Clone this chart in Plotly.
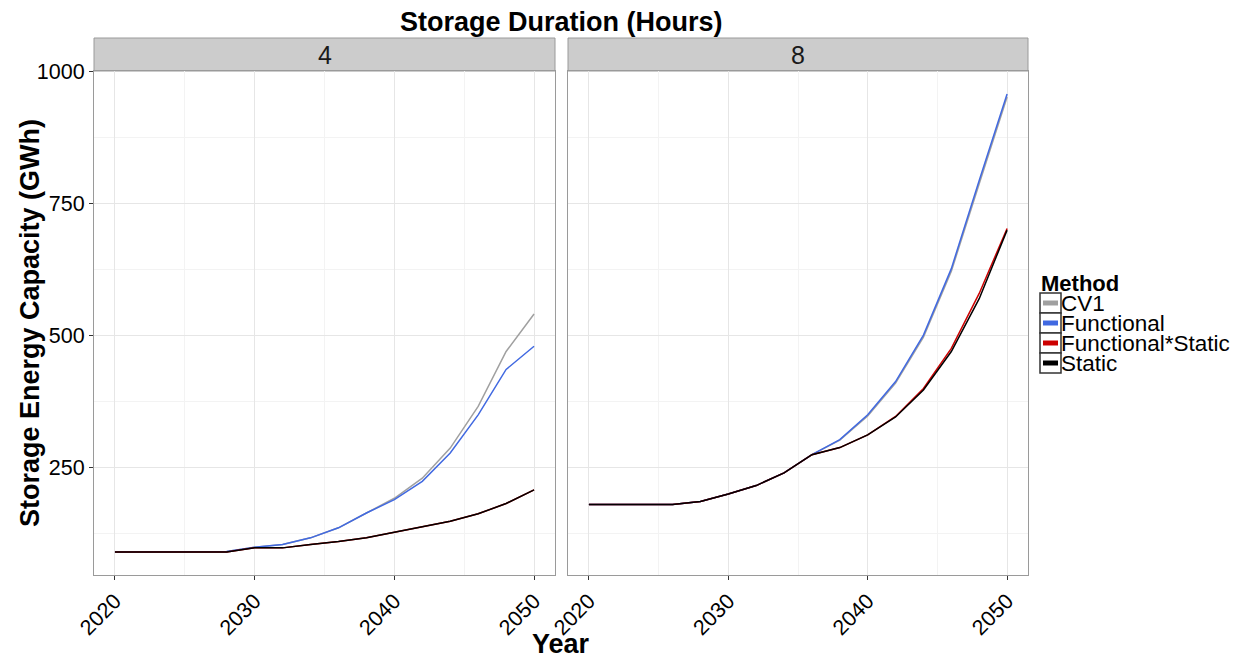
import plotly.graph_objects as go

years = [2020, 2022, 2024, 2026, 2028, 2030, 2032, 2034, 2036, 2038, 2040, 2042, 2044, 2046, 2048, 2050]

# Panel "4" (4-hour storage)
cv1_4 = [90, 90, 90, 90, 91, 99, 104.5, 117, 136, 164, 192, 230, 287, 366, 470, 541]
func_4 = [90, 90, 90, 90, 91, 99, 104.5, 117, 136, 164, 189.5, 224, 277.6, 350, 436, 480]
fs_4 = [90, 90, 90, 90, 90, 98, 98, 104.5, 110, 117, 128, 138, 148.5, 162.5, 182, 208]
static_4 = [90, 90, 90, 90, 90, 98, 98, 104.5, 110, 117, 128, 138, 148.5, 162.5, 182, 208]

# Panel "8" (8-hour storage)
cv1_8 = [180, 180, 180, 180, 186, 200, 216, 240, 274.5, 302, 348, 410, 497, 622, 788, 952]
func_8 = [180, 180, 180, 180, 186, 200, 216, 240, 274.5, 303, 350, 413, 501, 627, 794, 958]
fs_8 = [180, 180, 180, 180, 186, 200, 216, 240, 274.5, 288, 312, 347, 400, 476, 580, 703]
static_8 = [180, 180, 180, 180, 186, 200, 216, 240, 274.5, 288, 312, 346, 397, 470, 570, 700]

methods = ["CV1", "Functional", "Functional*Static", "Static"]
colors = {"CV1": "#a0a0a0", "Functional": "#4169e1", "Functional*Static": "#cc0000", "Static": "#000000"}
panel_data = {
    "4": {"CV1": cv1_4, "Functional": func_4, "Functional*Static": fs_4, "Static": static_4},
    "8": {"CV1": cv1_8, "Functional": func_8, "Functional*Static": fs_8, "Static": static_8},
}
panels = ["4", "8"]

W, H = 1244, 658
OFF = 8  # page body margin offset
FONT = "Liberation Sans, Arial, sans-serif"

def px(x):
    return (x - OFF) / W

def py(y):
    return 1 - (y - OFF) / H

left_dom = [px(94), px(555)]
right_dom = [px(568), px(1028)]
y_dom = [py(575), py(71)]

fig = go.Figure()
for i, p in enumerate(panels):
    xa = "x" if i == 0 else "x2"
    ya = "y" if i == 0 else "y2"
    for m in methods:
        fig.add_trace(go.Scatter(
            x=years, y=panel_data[p][m], mode="lines", name=m,
            line=dict(color=colors[m], width=1.5),
            xaxis=xa, yaxis=ya, showlegend=False,
        ))

grid_major = "#e6e6e6"
grid_minor = "#f3f3f3"
xr = [2018.5, 2051.5]
yr = [46.6, 1001.4]

common_x = dict(
    range=xr, tickmode="linear", tick0=2020, dtick=10,
    showgrid=True, gridcolor=grid_major, gridwidth=1,
    minor=dict(dtick=5, tick0=2020, showgrid=True, gridcolor=grid_minor, ticks=""),
    showline=True, linecolor="#9a9a9a", linewidth=1, mirror=True,
    ticks="outside", ticklen=4, tickcolor="#333333",
    tickangle=-45, tickfont=dict(family=FONT, size=21.5, color="#000000"),
    zeroline=False, fixedrange=True, automargin=False,
)
common_y = dict(
    range=yr, tickmode="array", tickvals=[250, 500, 750, 1000],
    showgrid=True, gridcolor=grid_major, gridwidth=1,
    minor=dict(tickvals=[125, 375, 625, 875], showgrid=True, gridcolor=grid_minor, ticks=""),
    showline=True, linecolor="#9a9a9a", linewidth=1, mirror=True,
    zeroline=False, fixedrange=True, automargin=False,
    tickfont=dict(family=FONT, size=21.5, color="#000000"),
)

fig.update_layout(
    width=W, height=H,
    margin=dict(l=0, r=0, t=0, b=0, autoexpand=False),
    paper_bgcolor="white", plot_bgcolor="white",
    xaxis=dict(domain=left_dom, anchor="y", **common_x),
    xaxis2=dict(domain=right_dom, anchor="y2", **common_x),
    yaxis=dict(domain=y_dom, anchor="x", ticks="outside", ticklen=4, tickcolor="#333333",
               showticklabels=True, **common_y),
    yaxis2=dict(domain=y_dom, anchor="x2", ticks="", showticklabels=False, matches="y", **common_y),
    showlegend=False,
    font=dict(family=FONT),
)

shapes = []
annotations = []
for dom, label in [(left_dom, "4"), (right_dom, "8")]:
    shapes.append(dict(type="rect", xref="paper", yref="paper",
                       x0=dom[0], x1=dom[1], y0=py(71), y1=py(38),
                       fillcolor="#cccccc", line=dict(color="#9a9a9a", width=1), layer="below"))
    annotations.append(dict(text=label, xref="paper", yref="paper",
                            x=(dom[0] + dom[1]) / 2, y=py(55), xanchor="center", yanchor="middle",
                            showarrow=False, font=dict(family=FONT, size=25, color="#1a1a1a")))

annotations.append(dict(text="<b>Storage Duration (Hours)</b>", xref="paper", yref="paper",
                        x=px(561), y=py(22), xanchor="center", yanchor="middle", showarrow=False,
                        font=dict(family=FONT, size=27, color="#000000")))
annotations.append(dict(text="<b>Year</b>", xref="paper", yref="paper",
                        x=px(561), y=py(644), xanchor="center", yanchor="middle", showarrow=False,
                        font=dict(family=FONT, size=27, color="#000000")))
annotations.append(dict(text="<b>Storage Energy Capacity (GWh)</b>", xref="paper", yref="paper",
                        x=px(30), y=py(323), xanchor="center", yanchor="middle", showarrow=False,
                        textangle=-90, font=dict(family=FONT, size=27, color="#000000")))

# Legend (ggplot-style keys)
annotations.append(dict(text="<b>Method</b>", xref="paper", yref="paper",
                        x=px(1039), y=py(283), xanchor="left", yanchor="middle", showarrow=False,
                        font=dict(family=FONT, size=22, color="#000000")))
key_top = 293
key_h = 20
for k, m in enumerate(methods):
    y0 = key_top + k * key_h
    y1 = y0 + key_h
    shapes.append(dict(type="rect", xref="paper", yref="paper",
                       x0=px(1040), x1=px(1061), y0=py(y1), y1=py(y0),
                       fillcolor="white", line=dict(color="#333333", width=1.5)))
    yc = (y0 + y1) / 2
    shapes.append(dict(type="rect", xref="paper", yref="paper",
                       x0=px(1043), x1=px(1058), y0=py(yc + 2.5), y1=py(yc - 2.5),
                       fillcolor=colors[m], line=dict(width=0)))
    annotations.append(dict(text=m, xref="paper", yref="paper",
                            x=px(1060), y=py(yc), xanchor="left", yanchor="middle", showarrow=False,
                            height=19, valign="middle", borderpad=0,
                            font=dict(family=FONT, size=22.5, color="#000000")))

fig.update_layout(shapes=shapes, annotations=annotations)
fig.write_html("out.html")
